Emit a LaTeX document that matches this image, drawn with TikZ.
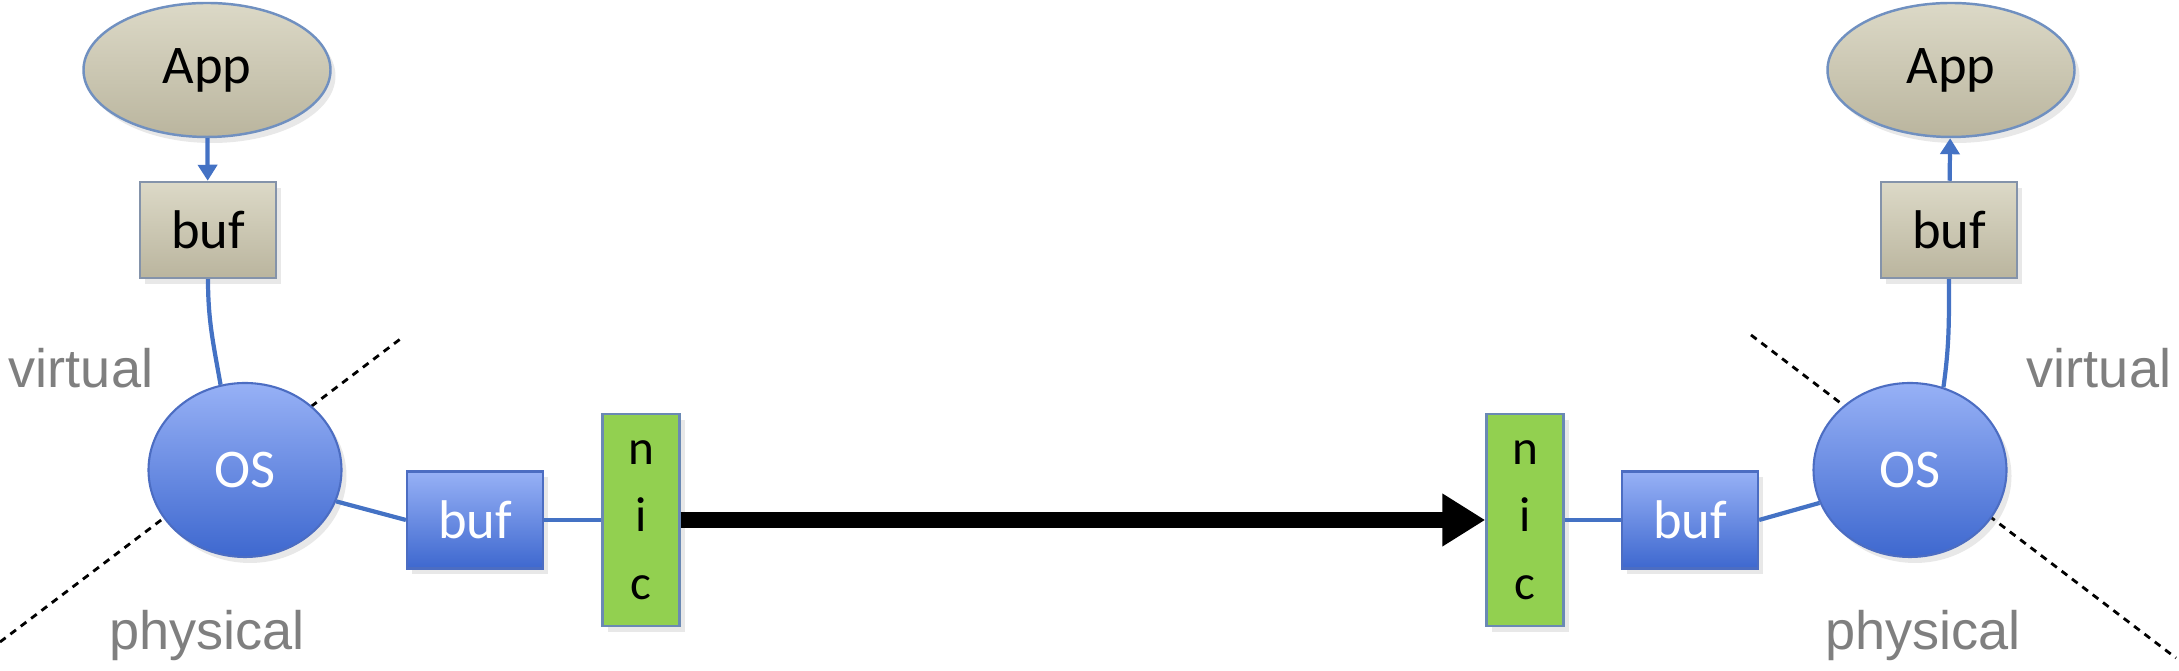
\documentclass[tikz,border=0pt]{standalone}
\usepackage{fontspec}
\setmainfont{Carlito}
\newfontfamily\arialfont{Liberation Sans}
\usetikzlibrary{arrows.meta,shapes.geometric,shadows}

\definecolor{appTop}{HTML}{DCD9C7}
\definecolor{appBot}{HTML}{BAB59E}
\definecolor{appEdge}{HTML}{7090C0}
\definecolor{bufEdge}{HTML}{8493AA}
\definecolor{osTop}{HTML}{97B1F6}
\definecolor{osBot}{HTML}{3E68CF}
\definecolor{osEdge}{HTML}{4C6DC2}
\definecolor{nicGreen}{HTML}{92D050}
\definecolor{nicEdge}{HTML}{6A89B4}
\definecolor{connBlue}{HTML}{4472C4}
\definecolor{layerGray}{HTML}{7F7F7F}

\begin{document}
\begin{tikzpicture}[
    softshadow/.style = {drop shadow={shadow xshift=0.5mm, shadow yshift=-0.6mm, opacity=0.18}},
    appnode/.style = {ellipse, draw=appEdge, line width=0.7pt, top color=appTop, bottom color=appBot,
                      minimum width=2.47cm, minimum height=1.34cm, inner sep=0pt, softshadow,
                      font=\fontsize{15.5}{18}\selectfont},
    vbuf/.style = {rectangle, draw=bufEdge, line width=0.7pt, top color=appTop, bottom color=appBot,
                   minimum width=1.36cm, minimum height=0.96cm, inner sep=0pt, softshadow,
                   font=\fontsize{15.5}{18}\selectfont},
    osnode/.style = {ellipse, draw=osEdge, line width=0.6pt, top color=osTop, bottom color=osBot,
                     minimum width=1.93cm, minimum height=1.74cm, inner sep=0pt, softshadow,
                     text=white, font=\fontsize{15.5}{18}\selectfont},
    pbuf/.style = {rectangle, draw=osEdge, line width=0.6pt, top color=osTop, bottom color=osBot,
                   minimum width=1.36cm, minimum height=0.97cm, inner sep=0pt, softshadow,
                   text=white, font=\fontsize{15.5}{18}\selectfont},
    nicnode/.style = {rectangle, draw=nicEdge, line width=0.7pt, fill=nicGreen,
                      minimum width=0.77cm, minimum height=2.12cm, inner sep=0pt, softshadow,
                      align=center, font=\fontsize{14}{19.2}\selectfont},
    layer/.style = {text=layerGray, inner sep=0pt, font=\arialfont\fontsize{15.4}{18}\selectfont},
    conn/.style = {draw=connBlue, line width=1.2pt},
    cut/.style = {draw=black, line width=0.8pt, dash pattern=on 2pt off 1.7pt},
    bigarrow/.style = {draw=black, line width=4.3pt, -{Triangle[length=4.3mm,width=5mm]}}
  ]
    \useasboundingbox (0,0) rectangle (21.79,-6.71);

    % virtual / physical boundaries (behind the OS)
    \coordinate (cutLa) at (0,-6.42);
    \coordinate (cutLb) at (4.03,-3.37);
    \coordinate (cutRa) at (17.51,-3.35);
    \coordinate (cutRb) at (21.76,-6.58);
    \draw [cut] (cutLa) -- (cutLb);
    \draw [cut] (cutRa) -- (cutRb);

    % sender
    \node [appnode] (appL) at (2.07,-0.70) {App};
    \node [vbuf] (vbufL) at (2.08,-2.30) {buf};
    \node [osnode] (osL) at (2.45,-4.70) {OS};
    \node [pbuf] (pbufL) at (4.75,-5.20) {buf};
    \node [nicnode] (nicL) at (6.41,-5.20) {n\\i\\c};

    % receiver
    \node [nicnode] (nicR) at (15.25,-5.20) {n\\i\\c};
    \node [pbuf] (pbufR) at (16.90,-5.20) {buf};
    \node [osnode] (osR) at (19.10,-4.70) {OS};
    \node [vbuf] (vbufR) at (19.49,-2.30) {buf};
    \node [appnode] (appR) at (19.51,-0.70) {App};

    \node [layer, anchor=base] (virtL) at (0.81,-3.88) {virtual};
    \node [layer, anchor=base] (physL) at (2.07,-6.50) {physical};
    \node [layer, anchor=base] (virtR) at (20.99,-3.88) {virtual};
    \node [layer, anchor=base] (physR) at (19.23,-6.50) {physical};

    \draw [conn, -{Triangle[length=1.6mm,width=1.9mm]}] (appL) -- (vbufL);
    \draw [conn] (vbufL.south) to[out=-90, in=100] (osL.106);
    \draw [conn] (osL.-19) -- (pbufL.west);
    \draw [conn] (pbufL) -- (nicL);
    \draw [bigarrow] (nicL) -- (nicR);
    \draw [conn] (nicR) -- (pbufR);
    \draw [conn] (pbufR.east) -- (osR.200);
    \draw [conn] (osR.68) to[out=82, in=-90] (vbufR.south);
    \draw [conn, -{Triangle[length=1.6mm,width=1.9mm]}] (vbufR) -- (appR);
  \end{tikzpicture}
\end{document}
